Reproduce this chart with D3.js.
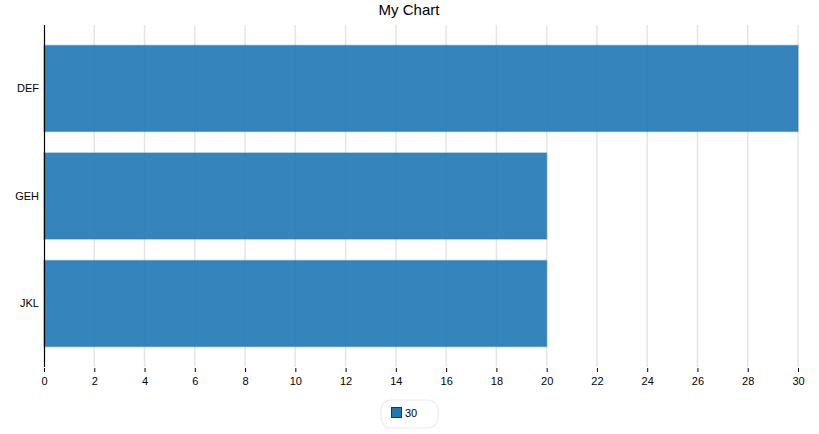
<!DOCTYPE html>
<html>
<head>
<meta charset="utf-8">
<script src="https://cdn.jsdelivr.net/npm/d3@7"></script>
<style>
  body { margin: 0; background: #fff; }
  svg { font-family: "Liberation Sans", Arial, sans-serif; }
  .grid line { stroke: #e5e5e5; stroke-width: 1.5; }
  .grid path { display: none; }
</style>
</head>
<body>
<svg id="chart" width="819" height="434"></svg>
<script>
var categories = ["DEF", "GEH", "JKL"];
var values = [30, 20, 20];
var seriesName = "30";
var xTicks = d3.range(0, 31, 2);

var svg = d3.select("#chart");
var margin = {top: 25, right: 21, bottom: 67, left: 44};
var width = 819 - margin.left - margin.right;
var height = 434 - margin.top - margin.bottom;

var x = d3.scaleLinear().domain([0, 30]).range([0, width]);
var y = d3.scaleBand().domain(categories).range([0, height])
          .paddingInner(0.2).paddingOuter(0.19);

svg.append("text")
   .attr("x", 409).attr("y", 15)
   .attr("text-anchor", "middle")
   .style("font-size", "15px")
   .attr("fill", "#000")
   .text("My Chart");

var g = svg.append("g").attr("transform", "translate(" + margin.left + "," + margin.top + ")");

// vertical grid lines
g.append("g")
 .attr("class", "grid")
 .selectAll("line")
 .data(xTicks.slice(1))
 .enter().append("line")
 .attr("x1", function(d) { return x(d); })
 .attr("x2", function(d) { return x(d); })
 .attr("y1", 0).attr("y2", height);

// bars
g.selectAll(".bar")
 .data(values)
 .enter().append("rect")
 .attr("class", "bar")
 .attr("x", 0)
 .attr("y", function(d, i) { return y(categories[i]); })
 .attr("width", function(d) { return x(d); })
 .attr("height", y.bandwidth())
 .attr("fill", "#1f77b4")
 .attr("fill-opacity", 0.9)
 .attr("stroke", "#1f77b4")
 .attr("stroke-opacity", 0.4)
 .attr("stroke-width", 1.5);

// x axis
var xAxis = g.append("g")
 .attr("transform", "translate(0," + (height + 1) + ")")
 .call(d3.axisBottom(x).tickValues(xTicks).tickSize(4).tickPadding(5));
xAxis.select(".domain").remove();
xAxis.selectAll("text").style("font-size", "11px").attr("fill", "#000");
xAxis.selectAll("line").attr("stroke", "#000");

// y axis
var yAxis = g.append("g")
 .call(d3.axisLeft(y).tickSize(0).tickPadding(5));
yAxis.select(".domain").attr("d", "M0.5,0V" + height).attr("stroke", "#000").attr("stroke-width", 1.2);
yAxis.selectAll("text").style("font-size", "11px").attr("fill", "#000");

// legend
var legend = svg.append("g").attr("transform", "translate(381,400)");
legend.append("rect")
 .attr("width", 57).attr("height", 28)
 .attr("rx", 10).attr("ry", 10)
 .attr("fill", "#fff")
 .attr("stroke", "#ececec")
 .attr("stroke-width", 1.2);
legend.append("rect")
 .attr("x", 10.5).attr("y", 7.5)
 .attr("width", 10).attr("height", 10)
 .attr("fill", "#1f77b4")
 .attr("stroke", "#333")
 .attr("stroke-width", 1);
legend.append("text")
 .attr("x", 24).attr("y", 16.5)
 .style("font-size", "11px")
 .attr("fill", "#000")
 .text(seriesName);
</script>
</body>
</html>
